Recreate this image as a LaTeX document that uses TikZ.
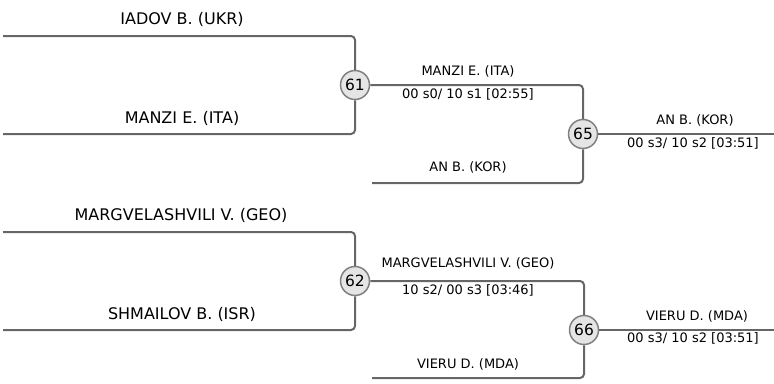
\documentclass[tikz,border=0pt]{standalone}
\usepackage{fontspec}
\setmainfont{DejaVu Sans}
\usepackage{tikz}

\tikzset{
  bout/.style={shape=circle, draw=black!50, fill=black!10, line width=1.5pt,
    inner sep=0pt, minimum size=29pt, font=\fontsize{15.5}{17}\selectfont},
  wire/.style={draw=black!60, line width=2pt, rounded corners=4pt},
  bigname/.style={inner sep=0pt, font=\fontsize{16}{18}\selectfont},
  smallname/.style={inner sep=0pt, font=\fontsize{13}{15}\selectfont},
}

\begin{document}
\begin{tikzpicture}[x=1pt, y=-1pt]
\useasboundingbox (0,0) rectangle (774,383);
% first pool
\coordinate (A1) at (3,36);
\coordinate (A2) at (3,134);
\coordinate (A3) at (372,183);
\coordinate (A4) at (774,134);
\node[bout] (M61) at (355,85) {61};
\node[bout] (M65) at (583,134) {65};
\draw[wire] (A1) -| (M61);
\draw[wire] (A2) -| (M61);
\draw[wire] (M61) -| (M65);
\draw[wire] (A3) -| (M65);
\draw[wire] (M65) -- (A4);
\node[bigname] (N1) at (182,19) {IADOV B. (UKR)};
\node[bigname] (N2) at (182,118) {MANZI E. (ITA)};
\node[smallname] (N3) at (468,71) {MANZI E. (ITA)};
\node[smallname] (S3) at (468,94) {00 s0/ 10 s1 [02:55]};
\node[smallname] (N4) at (468,167) {AN B. (KOR)};
\node[smallname] (N5) at (695,120) {AN B. (KOR)};
\node[smallname] (S5) at (693,143) {00 s3/ 10 s2 [03:51]};
% second pool
\coordinate (B1) at (3,232);
\coordinate (B2) at (3,330);
\coordinate (B3) at (372,378);
\coordinate (B4) at (774,330);
\node[bout] (M62) at (355,281) {62};
\node[bout] (M66) at (584,330) {66};
\draw[wire] (B1) -| (M62);
\draw[wire] (B2) -| (M62);
\draw[wire] (M62) -| (M66);
\draw[wire] (B3) -| (M66);
\draw[wire] (M66) -- (B4);
\node[bigname] (N6) at (181,215) {MARGVELASHVILI V. (GEO)};
\node[bigname] (N7) at (182,314) {SHMAILOV B. (ISR)};
\node[smallname] (N8) at (468,263) {MARGVELASHVILI V. (GEO)};
\node[smallname] (S8) at (468,290) {10 s2/ 00 s3 [03:46]};
\node[smallname] (N9) at (468,364) {VIERU D. (MDA)};
\node[smallname] (N10) at (697,316) {VIERU D. (MDA)};
\node[smallname] (S10) at (693,338) {00 s3/ 10 s2 [03:51]};
\end{tikzpicture}
\end{document}
